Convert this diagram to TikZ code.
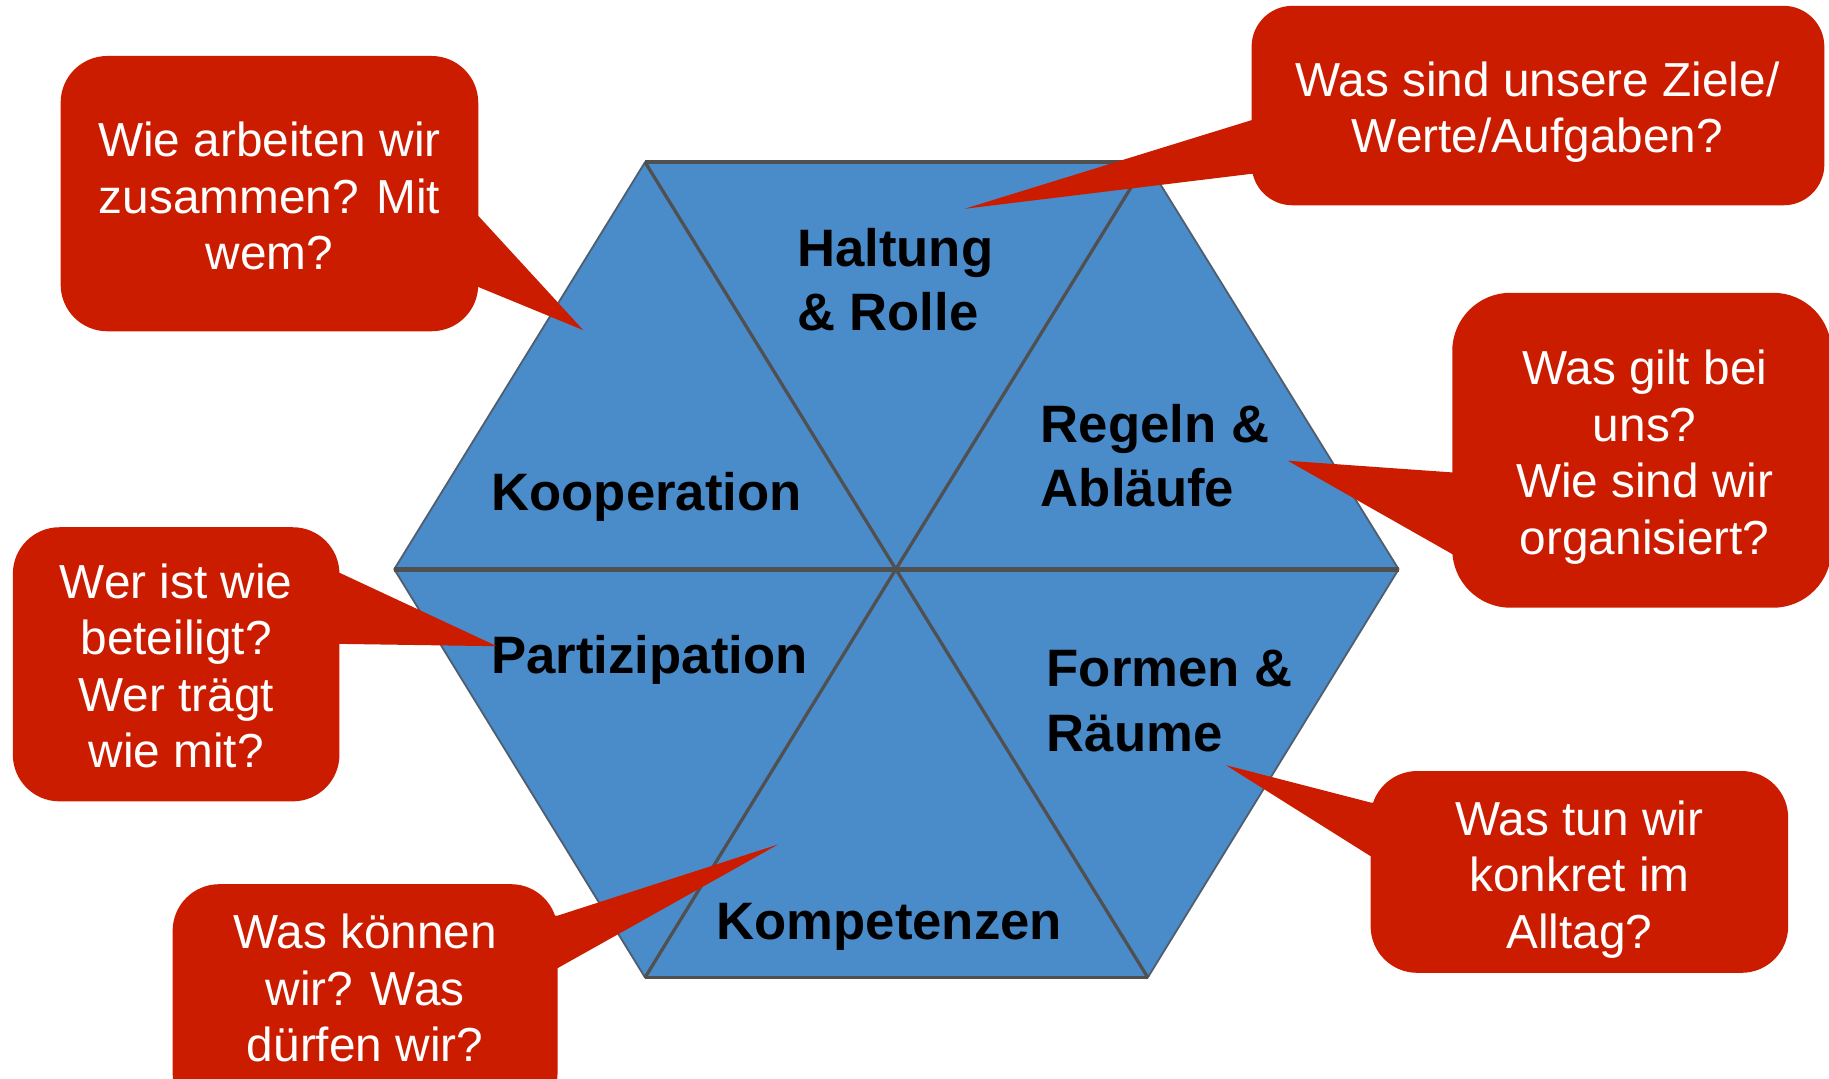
\documentclass[tikz,border=0pt]{standalone}
\usepackage{fontspec}
\setmainfont{Liberation Sans}
\definecolor{hexblue}{RGB}{74,139,202}
\definecolor{calred}{RGB}{204,28,0}
\definecolor{hexline}{RGB}{80,80,80}
\begin{document}
\begin{tikzpicture}[x=0.2mm,y=-0.2mm,
  hexfill/.style={fill=hexblue},
  outline/.style={draw=hexline!75!hexblue,line width=0.9pt,line join=round},
  innerline/.style={draw=hexline,line width=1.6pt},
  midline/.style={draw=hexline,line width=2.6pt},
  bubble/.style={fill=calred},
  qtext/.style={text=white,align=center,inner sep=0pt,font=\fontsize{23.3}{27.6}\selectfont},
  lbl/.style={text=black,align=left,inner sep=0pt,anchor=west,font=\bfseries\fontsize{25.7}{31.3}\selectfont}]
\useasboundingbox (0,0) rectangle (1568,925);
\clip (0,0) rectangle (1568,925);
\fill[white] (0,0) rectangle (1568,925);
% hexagon
\coordinate (C) at (768,488);
\coordinate (TL) at (553,139);
\coordinate (TR) at (983,139);
\coordinate (R) at (1199,488);
\coordinate (BR) at (984,838);
\coordinate (BL) at (553,838);
\coordinate (L) at (338,488);
\fill[hexfill] (TL) -- (TR) -- (R) -- (BR) -- (BL) -- (L) -- cycle;
\draw[outline] (TL) -- (TR) -- (R) -- (BR) -- (BL) -- (L) -- cycle;
\draw[innerline] (TL) -- (C) -- (TR);
\draw[innerline] (BL) -- (C) -- (BR);
\draw[midline] (L) -- (R);
\draw[innerline] (TL) -- (TR);
\draw[innerline] (BL) -- (BR);
% labels
\node[lbl] (l1) at (683,240) {Haltung\\\& Rolle};
\node[lbl] (l2) at (421,426) {Kooperation};
\node[lbl] (l3) at (892,391) {Regeln \&\\Abläufe};
\node[lbl] (l4) at (421,566) {Partizipation};
\node[lbl] (l5) at (897,601) {Formen \&\\Räume};
\node[lbl] (l6) at (614,795) {Kompetenzen};
% tips
\coordinate (t1) at (500,283);
\coordinate (t2) at (827,179);
\coordinate (t3) at (1104,395);
\coordinate (t4) at (426,554);
\coordinate (t5) at (667,724);
\coordinate (t6) at (1051,656);
% callout 1
\fill[bubble,rounded corners=8mm] (52,48) rectangle (410,284);
\fill[bubble] (410,185) -- (t1) -- (410,246) -- (390,246) -- (390,185) -- cycle;
% callout 2
\fill[bubble,rounded corners=7mm] (1073,5) rectangle (1564,176);
\fill[bubble] (1073,103) -- (t2) -- (1073,149) -- (1093,149) -- (1093,103) -- cycle;
% callout 3
\fill[bubble,rounded corners=10mm] (1245,251) rectangle (1570,521);
\fill[bubble] (1245,405) -- (t3) -- (1245,475) -- (1265,475) -- (1265,405) -- cycle;
% callout 4
\fill[bubble,rounded corners=8mm] (11,452) rectangle (291,687);
\fill[bubble] (291,491) -- (t4) -- (291,552) -- (271,552) -- (271,491) -- cycle;
% callout 5
\fill[bubble,rounded corners=8mm] (148,758) rectangle (478,960);
\fill[bubble] (478,785) -- (t5) -- (478,830) -- (458,830) -- (458,785) -- cycle;
% callout 6
\fill[bubble,rounded corners=8mm] (1175,661) rectangle (1533,834);
\fill[bubble] (1175,688) -- (t6) -- (1175,734) -- (1195,734) -- (1195,688) -- cycle;
% callout texts
\node[qtext] (q1) at (231,168) {Wie arbeiten wir\\zusammen? Mit\\wem?};
\node[qtext] (q2) at (1318,96) {Was sind unsere Ziele/\\Werte/Aufgaben?};
\node[qtext] (q3) at (1410,392) {Was gilt bei\\uns?\\Wie sind wir\\organisiert?};
\node[qtext] (q4) at (151,571) {Wer ist wie\\beteiligt?\\Wer trägt\\wie mit?};
\node[qtext] (q5) at (313,847) {Was können\\wir? Was\\dürfen wir?};
\node[qtext] (q6) at (1354,754) {Was tun wir\\konkret im\\Alltag?};
\end{tikzpicture}
\end{document}
